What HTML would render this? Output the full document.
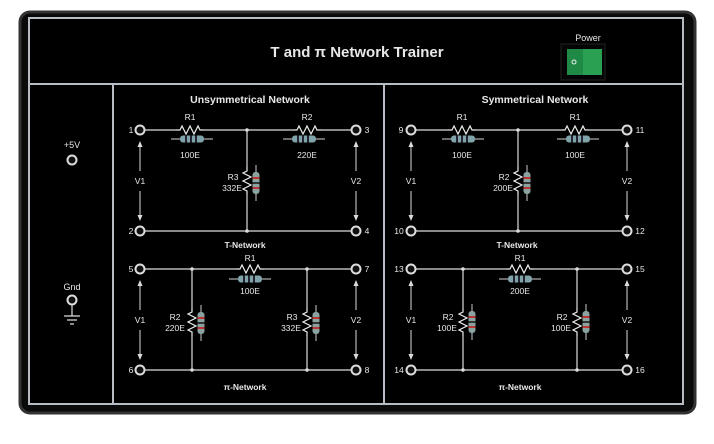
<!DOCTYPE html>
<html><head><meta charset="utf-8"><style>
html,body{margin:0;padding:0;background:#fff;}
svg{display:block;}
text{font-family:"Liberation Sans",sans-serif;fill:#e8e8e8;}
</style></head><body>
<svg width="714" height="444" viewBox="0 0 714 444" xmlns="http://www.w3.org/2000/svg">
<defs>
 <g id="zh"><path d="M-14,0 L-10,0 L-8,-4 L-4,4 L0,-4 L4,4 L8,-4 L10,0 L14,0" fill="none" stroke="#eee" stroke-width="1.2"/></g>
 <g id="zv"><path d="M0,-14 L0,-10 L-4,-8 L4,-4 L-4,0 L4,4 L-4,8 L0,10 L0,14" fill="none" stroke="#eee" stroke-width="1.2"/></g>
 <g id="bh"><line x1="-21" y1="0" x2="21" y2="0" stroke="#aaa" stroke-width="1.2"/><rect x="-12" y="-3.5" width="24" height="7" rx="3" fill="#7fa3a8"/><rect x="-7" y="-3.5" width="2" height="7" fill="#223"/><rect x="-2" y="-3.5" width="2" height="7" fill="#223"/><rect x="3" y="-3.5" width="2" height="7" fill="#223"/></g>
 <g id="bv"><line x1="0" y1="-18" x2="0" y2="18" stroke="#aaa" stroke-width="1.2"/><rect x="-3.5" y="-11" width="7" height="22" rx="3" fill="#8aa3a0"/><rect x="-3.5" y="-6" width="7" height="2" fill="#b33"/><rect x="-3.5" y="-1" width="7" height="2" fill="#333"/><rect x="-3.5" y="4" width="7" height="2" fill="#b33"/></g>
 <g id="tm"><circle r="4.5" fill="#111" stroke="#ddd" stroke-width="2"/></g>
 <g id="arr"><line x1="0" y1="-38" x2="0" y2="-10" stroke="#ddd" stroke-width="1"/><line x1="0" y1="10" x2="0" y2="38" stroke="#ddd" stroke-width="1"/><path d="M-2.5,-34 L0,-40 L2.5,-34Z M-2.5,34 L0,40 L2.5,34Z" fill="#ddd"/></g>
</defs>
<rect x="20" y="12" width="675" height="401" rx="10" fill="#0a0a0a"/>
<rect x="20" y="12" width="675" height="401" rx="10" fill="none" stroke="#333" stroke-width="3"/>
<rect x="29" y="18" width="654" height="386" fill="#000" stroke="#b8bcc4" stroke-width="2"/>
<line x1="29" y1="84" x2="683" y2="84" stroke="#b8bcc4" stroke-width="2"/>
<line x1="113" y1="84" x2="113" y2="404" stroke="#b8bcc4" stroke-width="2"/>
<line x1="384" y1="84" x2="384" y2="404" stroke="#b8bcc4" stroke-width="2"/>
<text x="357" y="57" font-size="15" font-weight="bold" text-anchor="middle" fill="#fff">T and π Network Trainer</text>
<text x="588" y="41" font-size="9" text-anchor="middle">Power</text>
<rect x="561" y="44" width="44" height="36" fill="#050505" stroke="#222"/>
<rect x="567" y="49" width="35" height="26" fill="#1e8a46"/>
<rect x="583" y="49" width="19" height="26" fill="#2aa052"/>
<circle cx="574" cy="62" r="2" fill="none" stroke="#eee" stroke-width="1"/>
<!-- left panel -->
<text x="72" y="148" font-size="9" text-anchor="middle">+5V</text>
<use href="#tm" x="72" y="160"/>
<text x="72" y="290" font-size="9" text-anchor="middle">Gnd</text>
<use href="#tm" x="72" y="300"/>
<path d="M72,305 V316 M64,316 H80 M67,320 H77 M70,324 H74" stroke="#ddd" stroke-width="1.2" fill="none"/>

<!-- Unsymmetrical T -->
<text x="250" y="103" font-size="10.5" font-weight="bold" text-anchor="middle">Unsymmetrical Network</text>
<path d="M140,130 H356 M140,231 H356 M247,130 V231" stroke="#ddd" stroke-width="1.2"/>
<circle cx="247" cy="130" r="1.8" fill="#ddd"/><circle cx="247" cy="231" r="1.8" fill="#ddd"/>
<rect x="176" y="126" width="28" height="8" fill="#000"/><use href="#zh" x="190" y="130"/>
<use href="#bh" x="192" y="139"/><text x="190" y="120" font-size="8.5" text-anchor="middle">R1</text><text x="190" y="158" font-size="8.5" text-anchor="middle">100E</text>
<rect x="293" y="126" width="28" height="8" fill="#000"/><use href="#zh" x="307" y="130"/>
<use href="#bh" x="304" y="139"/><text x="307" y="120" font-size="8.5" text-anchor="middle">R2</text><text x="307" y="158" font-size="8.5" text-anchor="middle">220E</text>
<rect x="243" y="167" width="8" height="28" fill="#000"/><use href="#zv" x="247" y="181"/><use href="#bv" x="256" y="183"/>
<text x="233" y="180" font-size="8.5" text-anchor="middle">R3</text><text x="232" y="191" font-size="8.5" text-anchor="middle">332E</text>
<use href="#tm" x="140" y="130"/><use href="#tm" x="356" y="130"/><use href="#tm" x="140" y="231"/><use href="#tm" x="356" y="231"/>
<text x="131" y="133" font-size="8.5" text-anchor="middle">1</text><text x="367" y="133" font-size="8.5" text-anchor="middle">3</text>
<text x="131" y="234" font-size="8.5" text-anchor="middle">2</text><text x="367" y="234" font-size="8.5" text-anchor="middle">4</text>
<use href="#arr" x="140" y="181"/><use href="#arr" x="356" y="181"/>
<text x="140" y="184" font-size="8.5" text-anchor="middle">V1</text><text x="356" y="184" font-size="8.5" text-anchor="middle">V2</text>
<text x="245" y="248" font-size="8.5" font-weight="bold" text-anchor="middle">T-Network</text>

<!-- Unsymmetrical Pi -->
<path d="M140,269 H356 M140,370 H356 M192,269 V370 M307,269 V370" stroke="#ddd" stroke-width="1.2"/>
<circle cx="192" cy="269" r="1.8" fill="#ddd"/><circle cx="307" cy="269" r="1.8" fill="#ddd"/><circle cx="192" cy="370" r="1.8" fill="#ddd"/><circle cx="307" cy="370" r="1.8" fill="#ddd"/>
<rect x="236" y="265" width="28" height="8" fill="#000"/><use href="#zh" x="250" y="269"/>
<use href="#bh" x="250" y="279"/><text x="250" y="261" font-size="8.5" text-anchor="middle">R1</text><text x="250" y="294" font-size="8.5" text-anchor="middle">100E</text>
<rect x="188" y="308" width="8" height="28" fill="#000"/><use href="#zv" x="192" y="322"/><use href="#bv" x="201" y="323"/>
<text x="175" y="320" font-size="8.5" text-anchor="middle">R2</text><text x="175" y="331" font-size="8.5" text-anchor="middle">220E</text>
<rect x="303" y="308" width="8" height="28" fill="#000"/><use href="#zv" x="307" y="322"/><use href="#bv" x="316" y="323"/>
<text x="292" y="320" font-size="8.5" text-anchor="middle">R3</text><text x="291" y="331" font-size="8.5" text-anchor="middle">332E</text>
<use href="#tm" x="140" y="269"/><use href="#tm" x="356" y="269"/><use href="#tm" x="140" y="370"/><use href="#tm" x="356" y="370"/>
<text x="131" y="272" font-size="8.5" text-anchor="middle">5</text><text x="367" y="272" font-size="8.5" text-anchor="middle">7</text>
<text x="131" y="373" font-size="8.5" text-anchor="middle">6</text><text x="367" y="373" font-size="8.5" text-anchor="middle">8</text>
<use href="#arr" x="140" y="320"/><use href="#arr" x="356" y="320"/>
<text x="140" y="323" font-size="8.5" text-anchor="middle">V1</text><text x="356" y="323" font-size="8.5" text-anchor="middle">V2</text>
<text x="245" y="390" font-size="8.5" font-weight="bold" text-anchor="middle">π-Network</text>

<!-- Symmetrical T -->
<text x="535" y="103" font-size="10.5" font-weight="bold" text-anchor="middle">Symmetrical Network</text>
<path d="M411,130 H627 M411,231 H627 M518,130 V231" stroke="#ddd" stroke-width="1.2"/>
<circle cx="518" cy="130" r="1.8" fill="#ddd"/><circle cx="518" cy="231" r="1.8" fill="#ddd"/>
<rect x="448" y="126" width="28" height="8" fill="#000"/><use href="#zh" x="462" y="130"/>
<use href="#bh" x="463" y="139"/><text x="462" y="120" font-size="8.5" text-anchor="middle">R1</text><text x="462" y="158" font-size="8.5" text-anchor="middle">100E</text>
<rect x="561" y="126" width="28" height="8" fill="#000"/><use href="#zh" x="575" y="130"/>
<use href="#bh" x="578" y="139"/><text x="575" y="120" font-size="8.5" text-anchor="middle">R1</text><text x="575" y="158" font-size="8.5" text-anchor="middle">100E</text>
<rect x="514" y="167" width="8" height="28" fill="#000"/><use href="#zv" x="518" y="181"/><use href="#bv" x="527" y="183"/>
<text x="504" y="180" font-size="8.5" text-anchor="middle">R2</text><text x="503" y="191" font-size="8.5" text-anchor="middle">200E</text>
<use href="#tm" x="411" y="130"/><use href="#tm" x="627" y="130"/><use href="#tm" x="411" y="231"/><use href="#tm" x="627" y="231"/>
<text x="401" y="133" font-size="8.5" text-anchor="middle">9</text><text x="640" y="133" font-size="8.5" text-anchor="middle">11</text>
<text x="399" y="234" font-size="8.5" text-anchor="middle">10</text><text x="640" y="234" font-size="8.5" text-anchor="middle">12</text>
<use href="#arr" x="411" y="181"/><use href="#arr" x="627" y="181"/>
<text x="411" y="184" font-size="8.5" text-anchor="middle">V1</text><text x="627" y="184" font-size="8.5" text-anchor="middle">V2</text>
<text x="517" y="248" font-size="8.5" font-weight="bold" text-anchor="middle">T-Network</text>

<!-- Symmetrical Pi -->
<path d="M411,269 H627 M411,370 H627 M463,269 V370 M577,269 V370" stroke="#ddd" stroke-width="1.2"/>
<circle cx="463" cy="269" r="1.8" fill="#ddd"/><circle cx="577" cy="269" r="1.8" fill="#ddd"/><circle cx="463" cy="370" r="1.8" fill="#ddd"/><circle cx="577" cy="370" r="1.8" fill="#ddd"/>
<rect x="506" y="265" width="28" height="8" fill="#000"/><use href="#zh" x="520" y="269"/>
<use href="#bh" x="520" y="279"/><text x="520" y="261" font-size="8.5" text-anchor="middle">R1</text><text x="520" y="294" font-size="8.5" text-anchor="middle">200E</text>
<rect x="459" y="308" width="8" height="28" fill="#000"/><use href="#zv" x="463" y="322"/><use href="#bv" x="472" y="322"/>
<text x="448" y="320" font-size="8.5" text-anchor="middle">R2</text><text x="447" y="331" font-size="8.5" text-anchor="middle">100E</text>
<rect x="573" y="308" width="8" height="28" fill="#000"/><use href="#zv" x="577" y="322"/><use href="#bv" x="586" y="322"/>
<text x="562" y="320" font-size="8.5" text-anchor="middle">R2</text><text x="561" y="331" font-size="8.5" text-anchor="middle">100E</text>
<use href="#tm" x="411" y="269"/><use href="#tm" x="627" y="269"/><use href="#tm" x="411" y="370"/><use href="#tm" x="627" y="370"/>
<text x="399" y="272" font-size="8.5" text-anchor="middle">13</text><text x="640" y="272" font-size="8.5" text-anchor="middle">15</text>
<text x="399" y="373" font-size="8.5" text-anchor="middle">14</text><text x="640" y="373" font-size="8.5" text-anchor="middle">16</text>
<use href="#arr" x="411" y="320"/><use href="#arr" x="627" y="320"/>
<text x="411" y="323" font-size="8.5" text-anchor="middle">V1</text><text x="627" y="323" font-size="8.5" text-anchor="middle">V2</text>
<text x="520" y="390" font-size="8.5" font-weight="bold" text-anchor="middle">π-Network</text>
</svg>
</body></html>
